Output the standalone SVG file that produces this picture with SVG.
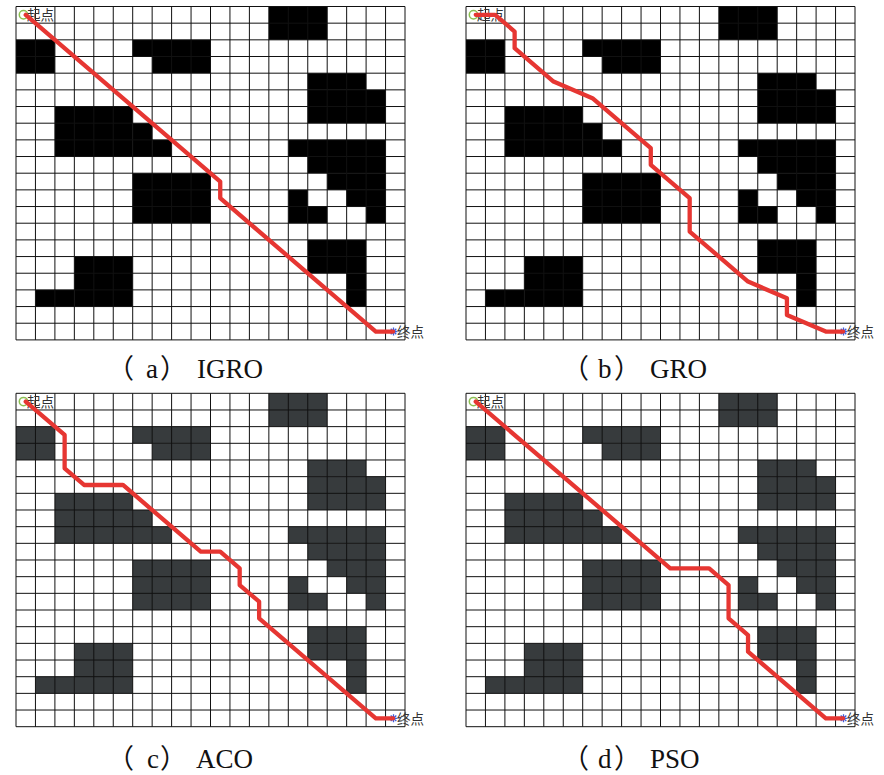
<svg xmlns="http://www.w3.org/2000/svg" width="884" height="775" viewBox="0 0 884 775">
<style>
.grid{fill:none;stroke:#111;stroke-width:1}
.path{fill:none;stroke:#e63632;stroke-width:4.3;stroke-linejoin:round;stroke-linecap:round}
.pt{font-family:"Noto Sans CJK SC","Liberation Serif",serif;font-size:13.5px;fill:#333}
.cap{font-family:"Liberation Serif","Noto Sans CJK SC",serif;font-size:27px;fill:#111}
.start{fill:none;stroke:#8cc152;stroke-width:1.5}
.end{stroke:#3b5bdb;stroke-width:1.3}
</style>
<defs>
<path id="gridlines" class="grid" d="M0 0V333.4M19.45 0V333.4M38.9 0V333.4M58.35 0V333.4M77.8 0V333.4M97.25 0V333.4M116.7 0V333.4M136.15 0V333.4M155.6 0V333.4M175.05 0V333.4M194.5 0V333.4M213.95 0V333.4M233.4 0V333.4M252.85 0V333.4M272.3 0V333.4M291.75 0V333.4M311.2 0V333.4M330.65 0V333.4M350.1 0V333.4M369.55 0V333.4M389 0V333.4M0 0H389M0 16.67H389M0 33.34H389M0 50.01H389M0 66.68H389M0 83.35H389M0 100.02H389M0 116.69H389M0 133.36H389M0 150.03H389M0 166.7H389M0 183.37H389M0 200.04H389M0 216.71H389M0 233.38H389M0 250.05H389M0 266.72H389M0 283.39H389M0 300.06H389M0 316.73H389M0 333.4H389"/>
<g id="obstacles">
<rect x="252.85" y="0" width="58.35" height="33.34"/>
<rect x="0" y="33.34" width="38.9" height="33.34"/>
<rect x="116.7" y="33.34" width="77.8" height="16.67"/>
<rect x="136.15" y="50.01" width="58.35" height="16.67"/>
<rect x="291.75" y="66.68" width="58.35" height="16.67"/>
<rect x="291.75" y="83.35" width="77.8" height="33.34"/>
<rect x="38.9" y="100.02" width="77.8" height="50.01"/>
<rect x="116.7" y="116.69" width="19.45" height="33.34"/>
<rect x="136.15" y="133.36" width="19.45" height="16.67"/>
<rect x="272.3" y="133.36" width="97.25" height="16.67"/>
<rect x="291.75" y="150.03" width="77.8" height="16.67"/>
<rect x="311.2" y="166.7" width="58.35" height="16.67"/>
<rect x="272.3" y="183.37" width="19.45" height="33.34"/>
<rect x="330.65" y="183.37" width="38.9" height="16.67"/>
<rect x="291.75" y="200.04" width="19.45" height="16.67"/>
<rect x="350.1" y="200.04" width="19.45" height="16.67"/>
<rect x="116.7" y="166.7" width="77.8" height="50.01"/>
<rect x="291.75" y="233.38" width="58.35" height="33.34"/>
<rect x="330.65" y="266.72" width="19.45" height="33.34"/>
<rect x="58.35" y="250.05" width="58.35" height="50.01"/>
<rect x="19.45" y="283.39" width="38.9" height="16.67"/>
</g>
<g id="markers">
<circle class="start" cx="7.5" cy="8.3" r="4.2"/>
<text class="pt" x="11" y="13.5">起点</text>
<path class="end" d="M373.5 325H381.5M377.5 321V329M374.7 322.2L380.3 327.8M380.3 322.2L374.7 327.8"/>
<text class="pt" x="381" y="330.5">终点</text>
</g>
</defs>

<g id="panel-a" transform="translate(16,6.5)">
<use href="#obstacles" fill="#000"/>
<use href="#gridlines"/>
<use href="#markers"/>
</g>
<g id="panel-b" transform="translate(466,6.5)">
<use href="#obstacles" fill="#000"/>
<use href="#gridlines"/>
<use href="#markers"/>
</g>
<g id="panel-c" transform="translate(16,393.3)">
<use href="#obstacles" fill="#373b3d"/>
<use href="#gridlines"/>
<use href="#markers"/>
</g>
<g id="panel-d" transform="translate(466,393.3)">
<use href="#obstacles" fill="#373b3d"/>
<use href="#gridlines"/>
<use href="#markers"/>
</g>

<g id="connectors">
<polyline class="path" transform="translate(16,6.5)" points="9.73,8.34 204.23,175.04 204.23,191.71 359.83,325.07 377,325.07"/>
<polyline class="path" transform="translate(466,6.5)" points="9.73,8.34 29.18,8.34 48.63,25.01 48.63,41.68 87.53,75.02 126.43,91.69 184.78,141.7 184.78,158.37 223.68,191.71 223.68,225.05 282.03,275.06 320.93,291.73 320.93,308.4 359.83,325.07 377,325.07"/>
<polyline class="path" transform="translate(16,393.3)" points="9.73,8.34 48.63,41.68 48.63,75.02 68.08,91.69 106.98,91.69 184.78,158.37 204.23,158.37 223.68,175.04 223.68,191.71 243.13,208.38 243.13,225.05 359.83,325.07 377,325.07"/>
<polyline class="path" transform="translate(466,393.3)" points="9.73,8.34 204.23,175.04 243.13,175.04 262.58,191.71 262.58,225.05 282.03,241.72 282.03,258.39 359.83,325.07 377,325.07"/>
</g>

<g id="captions">
<text class="cap" y="378"><tspan x="107">（</tspan><tspan x="146">a</tspan><tspan x="160">）</tspan><tspan x="197">IGRO</tspan></text>
<text class="cap" y="378"><tspan x="562">（</tspan><tspan x="598">b</tspan><tspan x="614">）</tspan><tspan x="650">GRO</tspan></text>
<text class="cap" y="768"><tspan x="107">（</tspan><tspan x="147">c</tspan><tspan x="160">）</tspan><tspan x="196">ACO</tspan></text>
<text class="cap" y="768"><tspan x="562">（</tspan><tspan x="598">d</tspan><tspan x="614">）</tspan><tspan x="650">PSO</tspan></text>
</g>
</svg>
